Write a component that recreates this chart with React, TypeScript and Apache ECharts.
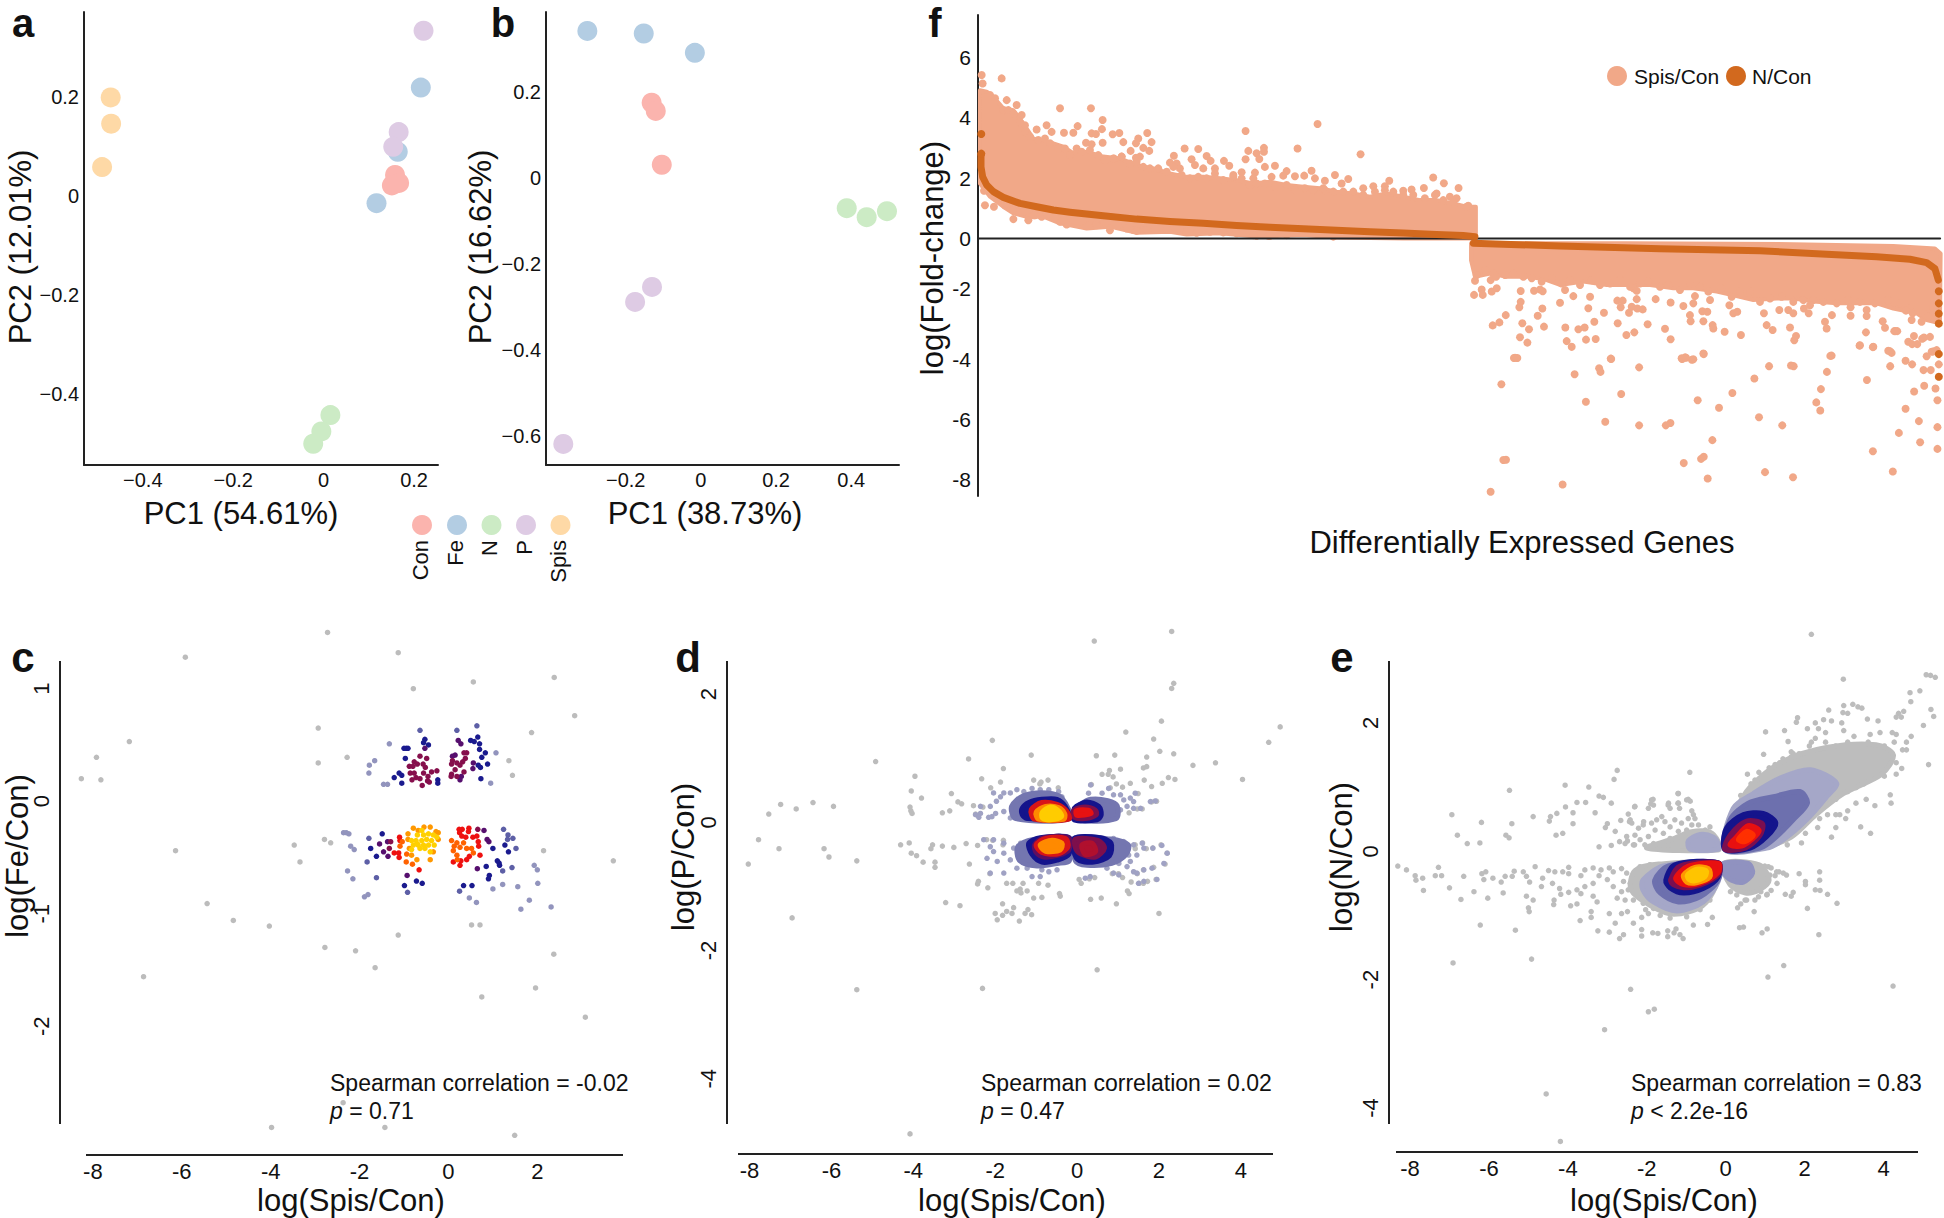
import React, { useEffect, useRef } from "react";
import * as echarts from "echarts";

type P = number[];
const FONT = "Liberation Sans";

const pcaGroups = ["Con", "Fe", "N", "P", "Spis"];
const pcaColors = ["#fbb4ae", "#b3cde3", "#ccebc5", "#decbe4", "#fed9a6"];
const pcaA: P[][] = [
  [[0.158, 0.043], [0.167, 0.027], [0.151, 0.022]],
  [[0.215, 0.22], [0.164, 0.09], [0.117, -0.014]],
  [[0.015, -0.443], [-0.005, -0.476], [-0.023, -0.501]],
  [[0.221, 0.335], [0.166, 0.13], [0.154, 0.1]],
  [[-0.471, 0.2], [-0.47, 0.147], [-0.49, 0.059]],
];
const pcaB: P[][] = [
  [[-0.131, 0.175], [-0.12, 0.156], [-0.104, 0.031]],
  [[-0.302, 0.342], [-0.152, 0.336], [-0.016, 0.291]],
  [[0.388, -0.07], [0.441, -0.091], [0.495, -0.077]],
  [[-0.13, -0.253], [-0.175, -0.288], [-0.366, -0.618]],
];

// Panel f
const fBandUp: P[] = [[2,4.91],[9,4.86],[15.9,4.69],[26.2,4.31],[36.6,4.25],[46.9,3.81],[57.3,3.31],[67.6,3.2],[78,3.15],[88.3,3.04],[98.7,2.82],[112.5,2.87],[129.7,2.71],[147,2.65],[164.2,2.43],[181.5,2.32],[198.7,2.15],[216,2.04],[233.2,2.04],[250.5,1.99],[267.7,1.93],[285,1.82],[302.2,1.88],[319.5,1.77],[336.7,1.71],[354,1.66],[371.2,1.55],[388.5,1.49],[405.7,1.38],[423,1.49],[440.2,1.38],[457.5,1.27],[474.7,1.27],[492,1.16],[505.8,1.05],[515.4,1.05],[515.4,0],[440.2,0],[371.2,0.03],[336.7,0.11],[288.4,0.06],[250.5,0.17],[216,0.13],[198.7,0.22],[164.2,0.19],[136.6,0.39],[112.5,0.33],[84.9,0.5],[67.6,0.72],[50.4,0.72],[36.6,0.83],[26.2,1.05],[12.4,1.38],[2,1.82]];
const fBandDown: P[] = [[510.4,-0.16],[671.5,-0.16],[844,-0.19],[947.5,-0.25],[990.6,-0.33],[996.5,-0.5],[995.8,-2.81],[982,-2.7],[971.7,-2.48],[947.5,-2.32],[930.3,-2.15],[913,-2.15],[888.9,-2.15],[868.2,-2.1],[844,-1.99],[826.8,-1.99],[802.6,-2.04],[781.9,-1.88],[764.7,-1.76],[740.5,-1.65],[719.8,-1.65],[695.7,-1.54],[671.5,-1.54],[650.8,-1.54],[626.7,-1.43],[602.5,-1.54],[588.7,-1.38],[571.5,-1.27],[547.3,-1.27],[530.1,-1.16],[514.5,-1.27],[510.4,-0.72]];
const fSpisUp: P[] = [[24.5,5.3],[3.8,5.41],[4.8,5.13],[84.9,4.31],[116.9,4.31],[129,3.92],[29.7,4.58],[40,4.42],[45.2,4.09],[48.6,3.75],[71,3.75],[60.7,3.61],[76.2,3.53],[89,3.5],[98.7,3.5],[103.1,3.72],[128.3,3.62],[117.6,3.48],[122.1,3.46],[139.4,3.45],[146.3,3.49],[175.2,3.49],[129,3.17],[111.8,3.17],[117.6,3.12],[150.4,3.19],[165.9,3.31],[163.5,3.15],[179.7,3.19],[158,2.9],[171.1,3],[177.3,2.9],[213.9,2.98],[228,2.96],[277,3.56],[351.5,3.79],[330.8,2.98],[396,2.79],[279.8,2.9],[296,3],[296,2.87],[288.4,2.82],[291.2,2.63],[277,2.62],[202.8,2.74],[198.7,2.51],[221.1,2.62],[236.7,2.73],[240.8,2.57],[254.6,2.57],[260.1,2.41],[297,2.37],[307.4,2.41],[319.5,2.23],[345.3,2.24],[316,2.08],[328.1,2.06],[337.7,2.08],[348.8,1.99],[359.1,1.91],[369.5,2.1],[383.3,1.97],[471.2,2.02],[482.3,1.83],[461.6,1.67],[497.5,1.67],[425.7,1.91],[409.2,1.73],[440.2,1.58],[448.8,1.62],[398.8,1.66],[167.6,2.71],[163.5,2.67],[148.7,2.71],[140.7,2.65],[205.6,2.48],[209,2.32],[224.6,2.43],[233.2,2.32],[245.3,2.32],[264.3,2.1],[272.9,2.19],[286.7,2.18],[285,1.99],[303.9,2.04],[376.4,1.82],[359.1,1.6],[421.2,1.73],[474.7,1.49],[488.5,1.38],[495.4,1.33],[507.5,1.08],[7.2,1.1],[16.5,1.05],[36.6,0.64],[52.1,0.6],[40.7,0.88],[6.2,1.58],[136.6,0.27],[91.8,0.46],[84.9,0.55],[65.9,0.72],[59,0.77],[27.9,1.1],[112.5,0.42],[122.8,0.5],[160.8,0.28],[171.1,0.28],[216,0.22],[288.4,0.09],[300.5,0.09],[367.8,0.06]];
const fEdgeTop: P[] = [[12.4,4.75],[17.6,4.64],[26.2,4.25],[31.4,4.25],[36.6,4.14],[43.5,3.85],[48.6,3.53],[53.8,3.37],[62.4,3.26],[69.3,3.31],[74.5,3.15],[83.1,2.98],[90,2.98],[95.2,2.76],[102.1,2.98],[107.3,2.87],[115.9,2.93],[124.5,2.76],[131.4,2.6],[140.1,2.65],[148.7,2.71],[157.3,2.48],[164.2,2.54],[171.1,2.37],[178,2.32],[186.6,2.32],[195.3,2.21],[202.2,2.37],[210.8,2.1],[219.4,1.99],[228,2.04],[236.7,1.99],[245.3,2.15],[253.9,1.93],[264.3,2.04],[272.9,1.99],[281.5,1.77],[288.4,1.82],[297,1.82],[307.4,1.71],[319.5,1.77],[328.1,1.6],[338.4,1.66],[347.1,1.6],[357.4,1.66],[367.8,1.55],[378.1,1.55],[388.5,1.55],[398.8,1.44],[410.9,1.55],[421.2,1.6],[429.9,1.55],[440.2,1.44],[450.6,1.44],[462.6,1.33],[473,1.44],[481.6,1.27],[492,1.2],[505.8,1.05]];
const fEdgeBottom: P[] = [[29.7,1.16],[36.6,0.94],[46.9,0.88],[57.3,0.77],[71,0.81],[79.7,0.72],[88.3,0.61],[105.6,0.61],[114.2,0.42],[122.8,0.44],[131.4,0.5],[145.2,0.44],[153.9,0.33],[164.2,0.25],[174.6,0.28],[183.2,0.33],[195.3,0.33],[205.6,0.33],[216,0.22],[226.3,0.19],[240.1,0.22],[253.9,0.2],[267.7,0.17],[285,0.11],[302.2,0.09],[319.5,0.11]];
const fEdgeLower: P[] = [[516.3,-1.21],[524.9,-1.05],[533.5,-1.16],[545.6,-1.21],[554.2,-1.16],[564.6,-1.27],[573.2,-1.32],[583.5,-1.43],[593.9,-1.32],[604.2,-1.49],[612.9,-1.38],[623.2,-1.54],[635.3,-1.38],[643.9,-1.54],[654.3,-1.49],[664.6,-1.38],[675,-1.6],[685.3,-1.49],[693.9,-1.43],[706,-1.6],[714.6,-1.54],[726.7,-1.71],[737.1,-1.49],[747.4,-1.6],[756,-1.76],[769.8,-1.65],[780.2,-1.93],[788.8,-1.76],[799.2,-1.76],[809.5,-2.1],[819.9,-1.99],[831.9,-1.93],[844,-2.1],[854.4,-2.04],[864.7,-2.04],[875.1,-2.1],[888.9,-2.15],[900.9,-2.04],[913,-2.1],[928.5,-2.15],[942.3,-2.04],[954.4,-2.15],[964.8,-2.32],[978.6,-2.48],[988.9,-2.65]];
const fSpisDown: P[] = [[514.5,-1.4],[530.7,-1.38],[536.3,-1.27],[513.5,-1.87],[521.4,-1.69],[537,-1.65],[531.8,-1.76],[522.5,-1.87],[561.8,-1.74],[575.6,-1.73],[581.8,-1.69],[584.6,-1.75],[561.8,-2.1],[560.4,-2.28],[546.3,-2.54],[539.7,-2.78],[532.8,-2.88],[563.5,-2.81],[570.4,-3.01],[585.9,-2.92],[579.4,-2.56],[584.2,-2.32],[602.5,-2.13],[616.3,-1.91],[633.6,-1.93],[607.7,-1.71],[631.8,-2.31],[648,-2.46],[638,-2.76],[608,-2.95],[621.5,-3.01],[628,-2.95],[561.1,-3.27],[568.7,-3.45],[609.4,-3.4],[614.6,-3.59],[629.4,-3.35],[639.4,-3.33],[662.2,-2.81],[671.2,-3.2],[679.4,-3.11],[693.2,-2.84],[661.8,-2.06],[667.4,-2.06],[681.9,-2.01],[665.3,-2.28],[676.7,-2.26],[682.5,-2.32],[688.1,-2.35],[673.9,-2.46],[678.4,-1.65],[681.9,-1.73],[701.5,-2.01],[717,-2.12],[730.2,-2.24],[740.5,-2.15],[742.2,-1.91],[737,-2.54],[737.7,-2.74],[750.9,-2.74],[749.8,-2.41],[755,-2.43],[760.5,-2.87],[761.2,-2.98],[772.9,-3.09],[789.8,-3.2],[711.2,-2.99],[717,-3.34],[757.8,-2.04],[777.8,-2.21],[781.9,-2.48],[786,-2.43],[813.6,-2.48],[816.4,-2.87],[822.6,-3.03],[829.5,-2.37],[840.6,-2.95],[845,-3.37],[846.8,-3.23],[838.8,-2.37],[844,-2.48],[855,-2.32],[861.3,-2.21],[859.9,-2.48],[876.8,-2.76],[878.5,-2.98],[884,-2.54],[903.3,-2.28],[903.3,-2.56],[919.2,-3.11],[936.5,-2.74],[938.9,-2.96],[948.5,-3.07],[951.6,-3.07],[913,-3.54],[926.8,-3.59],[942.3,-3.72],[945.8,-3.79],[883.7,-3.88],[919.9,-2.57],[919.9,-2.37],[960.6,-2.39],[967.5,-2.48],[966.5,-2.7],[968.9,-3.23],[963,-3.42],[972.3,-3.5],[979.2,-3.28],[985.5,-3.26],[987.2,-3.75],[982,-3.9],[992.4,-3.7],[976.8,-2.76],[983.7,-2.59],[988.9,-2.26],[555.9,-3.95],[655,-3.98],[732.9,-3.95],[740.5,-4],[728.4,-3.97],[750.9,-3.81],[751.3,-3.83],[882.3,-3.89],[729,-3.99],[732,-3.94],[739,-4.02],[554.8,-3.96],[558.3,-3.96],[655.5,-3.99],[643,-4.3],[644.4,-4.42],[684.4,-4.27],[818.9,-4.23],[841.6,-4.21],[844.4,-4.23],[617.6,-4.5],[541.8,-4.83],[803.7,-4.64],[878.8,-4.42],[920.2,-4.69],[872.6,-4.99],[780.9,-5.12],[665.8,-5.15],[629.3,-5.41],[745,-5.36],[767.1,-5.61],[867.8,-5.43],[871.9,-5.7],[649.3,-6.07],[684.4,-6.19],[712,-6.19],[716.8,-6.11],[808.5,-5.92],[832.6,-6.19],[760.2,-6.68],[546.6,-7.33],[543.8,-7.34],[730.6,-7.44],[748.5,-7.3],[751.3,-7.23],[755.4,-7.95],[814.7,-7.74],[843.7,-7.91],[605.2,-8.15],[530.7,-8.39],[926.4,-7.05],[947,-7.72],[953.3,-6.44],[975.3,-6.75],[974,-6.05],[993.2,-6.97],[993.2,-6.25],[960.2,-5.64],[993.2,-5.36],[969.1,-5.07],[979.5,-4.88],[991.2,-4.97],[960.2,-4.05],[944.3,-4.23],[944.3,-3.74],[967,-4.17],[978.8,-4.36],[986.3,-4.36],[994.6,-4.17],[989.1,-3.74],[912.6,-3.55],[926.4,-3.6],[949.8,-3.07],[967,-3.5],[977.4,-3.32]];
const fNLine: P[] = [[3.1,2.76],[3.1,2.37],[4.8,2.04],[9,1.77],[15.9,1.55],[26.2,1.36],[43.5,1.16],[60.7,1.05],[78,0.94],[95.2,0.87],[129.7,0.75],[164.2,0.64],[198.7,0.56],[233.2,0.5],[267.7,0.43],[302.2,0.37],[336.7,0.32],[371.2,0.27],[405.7,0.22],[440.2,0.18],[474.7,0.13],[502.3,0.1],[514.4,0.06]];
const fNLine2: P[] = [[512.8,-0.16],[602.5,-0.25],[706,-0.34],[809.5,-0.41],[878.5,-0.52],[930.3,-0.61],[964.8,-0.69],[982,-0.8],[990.6,-1],[994.1,-1.38]];
const fNDots: P[] = [[3.4,3.46],[3.4,2.81],[994.6,-1.75],[994.6,-2.15],[994.6,-2.49],[994.6,-2.82],[994.6,-3.83],[994.6,-4.58]];
const fZero: P[] = [[0, 0], [996, 0]];

// Panel c
const cGrey: P[] = [[-2.72,1.5],[-5.92,1.28],[-1.13,1.32],[0.56,1.06],[-0.79,1],[2.38,1.1],[2.84,0.76],[-2.93,0.65],[1.87,0.61],[-7.18,0.53],[-7.92,0.39],[-2.28,0.39],[-2.93,0.34],[1.36,0.36],[-8.26,0.2],[-7.82,0.19],[1.44,0.23],[-6.14,-0.44],[-3.47,-0.39],[-2.79,-0.34],[-2.65,-0.37],[-3.34,-0.54],[2.14,-0.44],[3.71,-0.53],[-5.43,-0.91],[-4.84,-1.06],[-4.03,-1.11],[-1.13,-1.19],[-2.78,-1.3],[-2.09,-1.33],[-1.65,-1.48],[-6.86,-1.56],[0.52,-1.1],[0.71,-1.1],[2.37,-1.36],[0.75,-1.74],[1.96,-1.66],[3.08,-1.92],[-2.37,-2.68],[-3.98,-2.9],[-1.43,-2.9],[1.49,-2.97]];
const cLight: P[] = [[-1.33,0.51],[-1.66,0.36],[-1.78,0.32],[-1.79,0.25],[-1.46,0.15],[-1.37,0.15],[0.95,0.16],[1.07,0.43],[-2.36,-0.28],[-2.3,-0.28],[-2.24,-0.29],[-2.2,-0.4],[-2.12,-0.43],[-2.27,-0.62],[-2.15,-0.69],[-1.89,-0.85],[-1.81,-0.83],[2,-0.61],[1.93,-0.57],[2.01,-0.73],[1.56,-0.76],[1,-0.78],[1.22,-0.74],[1.82,-0.88],[1.63,-0.96],[2.31,-0.94],[0.63,-0.9],[0.47,-0.86]];
const cMid: P[] = [[-0.64,0.63],[0.19,0.63],[0.64,0.67],[-1.83,-0.54],[-1.79,-0.33],[-1.62,-0.68],[-0.92,-0.81],[0.25,-0.8],[1.45,-0.33],[1.52,-0.42],[1.34,-0.3],[1.24,-0.25],[1.33,-0.34],[1.43,-0.59],[1.22,-0.62]];
const cNavy: P[] = [[-0.95,0.47],[-0.91,0.47],[-1,0.47],[-0.53,0.55],[-0.56,0.52],[-0.45,0.5],[-0.97,0.38],[-1.22,0.21],[-1.11,0.25],[-1.05,0.23],[-1.05,0.16],[0.66,0.57],[0.5,0.54],[0.58,0.53],[0.7,0.51],[0.7,0.46],[0.83,0.43],[0.75,0.39],[0.88,0.33],[0.73,0.2],[-0.24,0.19],[-0.24,0.16],[-1.49,-0.29],[-1.75,-0.42],[-1.62,-0.49],[-0.99,-0.75],[-0.72,-0.71],[-0.59,-0.73],[0.34,-0.75],[0.53,-0.75],[0.92,-0.66],[0.9,-0.69],[0.85,-0.58],[1.1,-0.53],[1.14,-0.55],[1.15,-0.57],[1.27,-0.39],[1.35,-0.45],[1,-0.42],[0.67,0.32],[0.72,0.3]];
const cPurple: P[] = [[-0.53,0.47],[0.22,0.54],[0.28,0.51],[0.15,0.41],[0.09,0.4],[0.56,0.34],[0.55,0.29],[0.29,0.22],[0.26,0.19],[-1.55,-0.38],[-1.46,-0.45],[-1.36,-0.49],[-0.93,-0.66],[0.65,-0.6],[0.87,-0.34],[0.91,-0.36],[0.8,-0.26],[-1.37,-0.36]];
const cMaroon: P[] = [[-0.64,0.4],[-0.49,0.38],[-0.77,0.35],[-0.88,0.31],[-0.8,0.31],[-0.7,0.33],[-0.57,0.33],[-0.52,0.3],[-0.86,0.25],[-0.77,0.25],[-0.56,0.25],[-0.38,0.26],[-0.26,0.27],[-0.46,0.22],[-0.73,0.21],[-0.64,0.2],[-0.82,0.19],[-0.47,0.18],[-0.43,0.17],[-0.59,0.14],[0.41,0.43],[0.35,0.43],[0.38,0.38],[0.32,0.35],[0.26,0.32],[0.19,0.34],[0.09,0.36],[0.07,0.33],[0.15,0.28],[0.35,0.26],[0.07,0.24],[0.06,0.22],[0.19,0.22],[0.66,-0.25],[-1.33,-0.42],[-1.3,-0.36]];
const cRed: P[] = [[0.24,-0.25],[0.31,-0.25],[0.46,-0.24],[0.45,-0.27],[0.25,-0.28],[0.3,-0.31],[0.39,-0.32],[0.55,-0.32],[0.64,-0.31],[0.67,-0.36],[0.68,-0.4],[0.71,-0.48],[0.11,-0.54],[0.28,-0.53],[0.26,-0.57],[0.41,-0.52],[0.47,-0.49],[-1.1,-0.32],[-1.09,-0.35],[-1.22,-0.46],[-1.12,-0.46],[-1.11,-0.5],[-0.66,-0.61]];
const cDeepOrange: P[] = [[0.07,-0.35],[0.19,-0.37],[0.34,-0.37],[0.13,-0.4],[0.11,-0.44],[0.26,-0.41],[0.19,-0.48],[0.41,-0.42],[0.52,-0.42],[0.56,-0.46],[0.2,-0.52],[-0.81,-0.56],[-0.95,-0.54],[-1.04,-0.36],[-1.09,-0.4],[-0.94,-0.47]];
const cOrange: P[] = [[-0.79,-0.24],[-0.55,-0.23],[-0.41,-0.23],[-0.91,-0.29],[-0.91,-0.34],[-0.83,-0.48],[-0.71,-0.52],[-0.41,-0.52],[-0.34,-0.45],[-0.28,-0.27],[-0.23,-0.28],[-0.23,-0.34],[-0.68,-0.26],[-0.88,-0.42]];
const cGold: P[] = [[-0.6,-0.26],[-0.7,-0.3],[-0.56,-0.3],[-0.45,-0.29],[-0.34,-0.3],[-0.83,-0.35],[-0.73,-0.35],[-0.6,-0.35],[-0.49,-0.34],[-0.38,-0.35],[-0.26,-0.32],[-0.79,-0.39],[-0.68,-0.39],[-0.56,-0.39],[-0.45,-0.39],[-0.32,-0.39],[-0.83,-0.43],[-0.64,-0.42],[-0.53,-0.42],[-0.41,-0.45],[-0.7,-0.38]];

// Panel d
const dGrey: P[] = [[2.31,2.98],[0.42,2.83],[2.36,2.17],[2.31,2.09],[2.06,1.58],[1.19,1.41],[4.96,1.49],[4.68,1.25],[1.87,1.3],[-2.07,1.28],[2.02,1.11],[-1.12,1.05],[0.47,1.04],[0.92,1.05],[2.36,1.07],[1.7,1.02],[-2.65,0.99],[-4.92,0.95],[2.83,0.89],[3.38,0.93],[-1.8,0.84],[4.04,0.67],[1.7,0.87],[1.62,0.85],[1.06,0.83],[0.79,0.81],[0.61,0.75],[0.88,0.71],[2.39,0.67],[2.23,0.7],[2.08,0.61],[1.64,0.66],[1.82,0.56],[-3.96,0.72],[-2.33,0.68],[-4.05,0.49],[-3.8,0.38],[-3.07,0.45],[-2.91,0.32],[-2.82,0.29],[-7.24,0.28],[-6.45,0.31],[-6.86,0.21],[-5.95,0.25],[-7.53,0.13],[-4.08,0.24],[-4.06,0.18],[-4.03,0.14],[-3.29,0.15],[-3.11,0.18],[-2.53,0.26],[-2.48,0.13],[-2.3,0.24],[-7.78,-0.27],[-7.28,-0.41],[-6.18,-0.41],[-6.06,-0.54],[-5.38,-0.6],[-8.03,-0.65],[-4.31,-0.35],[-4.1,-0.32],[-4.05,-0.48],[-3.92,-0.52],[-3.76,-0.62],[-3.47,-0.62],[-3.47,-0.7],[-3.57,-0.41],[-3.53,-0.35],[-3.29,-0.37],[-3.01,-0.39],[-2.71,-0.33],[-2.63,-0.65],[-2.43,-0.36],[-2.21,-0.27],[-2.06,-0.28],[-1.8,-0.28],[-1.81,-0.35],[-2.41,-0.92],[-2.43,-0.96],[-2.18,-1.02],[-2.13,-0.8],[-3.21,-1.25],[-2.86,-1.3],[-6.96,-1.49],[2,-1.42],[0.96,-1.27],[0.59,-1.18],[0.33,-1.2],[0.49,-2.3],[-2.31,-2.59],[-5.38,-2.61],[-4.08,-4.86],[-2,-1.42],[-1.82,-1.27],[-1.95,-1.52],[-1.82,-1.45],[-1.72,-1.39],[-1.59,-1.42],[-1.55,-1.33],[-1.41,-1.54],[-1.27,-1.42],[-1.2,-1.36],[-1.11,-1.44],[-1.47,-1.07],[-1.37,-1.1],[-1.39,-1.04],[-1.22,-1.07],[-1.06,-1.18],[-0.86,-1.17],[-0.43,-1.11],[-0.41,-1.15],[-0.94,-0.95],[-0.71,-0.98],[-1.32,-0.95],[-1.57,-0.95],[-1.72,-0.95],[1.23,-1.07],[1.27,-1.11],[1.32,-0.93],[1.52,-0.95],[1.62,-0.95],[1.72,-0.92],[1.93,-0.89],[1.87,-0.7],[1.62,-0.74],[1.47,-0.8],[1.01,-0.8],[1.11,-0.86],[0.86,-0.8],[0.1,-0.95],[0.05,-0.89],[0.3,-0.88],[0.43,-0.86],[2.15,-0.65],[2.2,-0.48],[2.05,-0.35],[1.85,-0.4],[1.6,-0.32],[1.69,-0.41],[1.42,-0.41],[1.42,-0.35],[0.76,0.75],[0.96,0.6],[1.3,0.61],[1.11,0.55],[0.81,0.54],[0.35,0.59],[1.94,0.33],[1.82,0.32],[1.59,0.21],[1.47,0.21],[1.27,0.15],[1.49,0.45],[-2.11,0.54],[-1.87,0.63],[-1.06,0.66],[-0.88,0.63],[-0.71,0.66],[-0.46,0.54],[-0.91,0.6]];
const dHalo: P[] = [[-2.04,0.46],[-1.97,0.33],[-1.87,0.4],[-1.79,0.46],[-1.63,0.46],[-1.47,0.51],[-1.3,0.48],[-1.1,0.53],[-0.9,0.51],[-0.69,0.51],[-0.45,0.48],[-0.37,0.4],[-2.36,0.25],[-2.12,0.25],[-1.99,0.14],[-2.08,0.09],[-1.63,0.07],[-1.79,0.17],[-2.36,0.14],[-2.48,0.12],[-2.4,0.08],[-2.16,0.08],[0.33,0.585],[0.28,0.455],[0.61,0.455],[0.77,0.53],[0.89,0.43],[1.06,0.43],[1.14,0.35],[1.3,0.38],[1.42,0.455],[1.38,0.325],[1.22,0.25],[1.06,0.195],[0.89,0.065],[0.73,0.09],[0.65,0.04],[1.38,0.22],[1.55,0.22],[1.79,0.325],[1.91,0.335],[-2.12,-0.38],[-2.04,-0.455],[-1.79,-0.48],[-1.55,-0.4],[-1.38,-0.325],[-1.63,-0.585],[-1.95,-0.61],[-2.2,-0.56],[-2.28,-0.27],[-2.04,-0.27],[-1.79,-0.325],[-1.47,-0.715],[-1.22,-0.715],[-0.86,-0.74],[-0.69,-0.77],[-0.49,-0.74],[-0.9,-0.845],[-1.1,-0.845],[-1.79,-0.79],[-2.12,-0.79],[-0.65,-0.64],[0.89,-0.25],[1.14,-0.3],[1.38,-0.35],[1.59,-0.325],[1.63,-0.4],[1.85,-0.4],[1.46,-0.51],[1.26,-0.51],[1.3,-0.61],[1.02,-0.64],[1.22,-0.69],[1.38,-0.77],[1.63,-0.74],[1.83,-0.715],[2.12,-0.64],[2.2,-0.48],[2.07,-0.36],[0.32,-0.845],[0.2,-0.87],[0.73,-0.715],[0.89,-0.79],[1.02,-0.82],[1.46,-0.79],[1.5,-0.95],[1.63,-0.92],[1.95,-0.89]];
const dDensity: { shade: string; hull: P[] }[] = [
  { shade: "#7476b0", hull: [[-1.6,0.25],[-1.3,0.42],[-0.73,0.46],[-0.37,0.38],[-0.19,0.06],[-1.5,0.06]] },
  { shade: "#7476b0", hull: [[0.08,0.28],[0.33,0.36],[0.75,0.34],[0.98,0.26],[0.95,0.06],[0,0.04],[-0.07,0.19]] },
  { shade: "#7476b0", hull: [[-1.45,-0.38],[-1.1,-0.27],[-0.19,-0.24],[-0.19,-0.6],[-0.49,-0.64],[-0.98,-0.68],[-1.4,-0.6]] },
  { shade: "#7476b0", hull: [[-0.07,-0.25],[0.81,-0.26],[1.25,-0.35],[1.2,-0.5],[0.85,-0.64],[0.24,-0.67],[-0.04,-0.6]] },
  { shade: "#14148c", hull: [[-1.34,0.22],[-1.18,0.31],[-0.86,0.36],[-0.49,0.36],[-0.29,0.25],[-0.2,0.06],[-1.22,0.06],[-1.34,0.12]] },
  { shade: "#14148c", hull: [[-0.02,0.25],[0.24,0.32],[0.53,0.25],[0.59,0.12],[0.49,0.04],[-0.07,0.04],[-0.08,0.19]] },
  { shade: "#14148c", hull: [[-1.18,-0.325],[-0.9,-0.24],[-0.2,-0.24],[-0.2,-0.5],[-0.49,-0.59],[-0.86,-0.62],[-1.1,-0.5]] },
  { shade: "#14148c", hull: [[-0.07,-0.25],[0.57,-0.24],[0.83,-0.325],[0.79,-0.52],[0.41,-0.62],[0,-0.57]] },
  { shade: "#7d0f4c", hull: [[-0.08,0.19],[0.2,0.24],[0.45,0.19],[0.47,0.12],[0.2,0.06],[-0.07,0.08]] },
  { shade: "#5d0e62", hull: [[-1.04,-0.35],[-0.81,-0.24],[-0.21,-0.24],[-0.2,-0.43],[-0.45,-0.51],[-0.81,-0.54],[-1,-0.47]] },
  { shade: "#7d0f4c", hull: [[-0.04,-0.26],[0.51,-0.28],[0.67,-0.4],[0.45,-0.54],[0.08,-0.49],[-0.04,-0.4]] },
  { shade: "#d81418", hull: [[-1.12,0.2],[-0.86,0.31],[-0.49,0.28],[-0.26,0.18],[-0.2,0.05],[-1.04,0.05]] },
  { shade: "#e81212", hull: [[-0.02,0.18],[0.28,0.19],[0.34,0.14],[0,0.11]] },
  { shade: "#d81418", hull: [[-1,-0.35],[-0.77,-0.25],[-0.29,-0.25],[-0.22,-0.38],[-0.45,-0.49],[-0.86,-0.47]] },
  { shade: "#b0102e", hull: [[0.12,-0.35],[0.37,-0.325],[0.45,-0.455],[0.2,-0.5]] },
  { shade: "#ff8a00", hull: [[-1,0.16],[-0.77,0.25],[-0.45,0.23],[-0.3,0.13],[-0.33,0.05],[-0.94,0.05]] },
  { shade: "#ff8a00", hull: [[-0.9,-0.35],[-0.61,-0.28],[-0.37,-0.325],[-0.41,-0.43],[-0.77,-0.45]] },
  { shade: "#ffcc00", hull: [[-0.85,0.16],[-0.65,0.24],[-0.45,0.18],[-0.38,0.09],[-0.65,0.04],[-0.85,0.07]] },
];

// Panel e
const eGrey: P[] = [[2.17,3.38],[2.98,2.68],[5.08,2.75],[5.19,2.74],[5.31,2.71],[4.92,2.5],[4.67,2.47],[4.69,2.33],[5.2,2.21],[5.27,2.1],[5.01,1.96],[5.14,1.35],[4.38,2.15],[4.51,2.18],[4.45,2.09],[4.32,2.09],[2.99,2.27],[3.22,2.29],[3.35,2.25],[3.45,2.23],[2.61,2.2],[2.97,2.16],[3.09,2.15],[1.82,2.08],[1.79,2.01],[2.27,2],[2.48,2.05],[2.68,2.03],[2.94,2],[3.59,2.06],[3.86,2.03],[1.01,1.86],[1.49,1.88],[2.07,1.91],[2.35,1.91],[2.53,1.85],[2.99,1.88],[3.25,1.79],[3.66,1.82],[3.91,1.85],[4.22,1.85],[4.32,1.82],[4.7,1.79],[4.58,1.7],[4.27,1.7],[1.58,1.71],[2.17,1.7],[0.96,1.51],[1.66,1.55],[4.48,1.58],[4.58,1.58],[4.12,1.55],[3.81,1.52],[4.46,1.29],[4.32,1.2],[4.02,1.17],[3.81,1.32],[3.66,1.17],[3.4,1.11],[3.25,1.29],[4.17,0.88],[4.19,0.75],[3.78,0.71],[3.56,0.81],[3.3,0.75],[3.09,0.63],[3.42,0.38],[3.67,0.28],[2.89,0.57],[2.79,0.37],[2.68,0.22],[2.33,0.37],[1.92,0.13],[1.56,0.1],[1.15,0.09],[0.55,1.2],[0.74,1.11],[1.1,1.3],[0.38,0.87],[1.37,1.38],[1.71,1.52],[2.17,1.55],[2.68,1.55],[2.99,1.58],[3.5,1.64],[2.89,1.26],[3.5,1.38],
[0.64,1.05],[0.84,1.23],[1.05,1.2],[1.25,1.35],[1.45,1.44],[1.66,1.47],[1.86,1.52],[2.12,1.64],[2.27,1.76],[2.53,1.7],[2.79,1.64],[3.09,1.7],[3.35,1.61],[3.61,1.7],[3.86,1.61],[4.02,1.64],[4.22,1.52],[4.32,1.38],[4.02,1.35],[3.76,1.23],[3.56,1.23],[1.05,0.13],[1.35,0.25],[1.66,0.31],[1.97,0.4],[2.17,0.57],[2.48,0.69],[2.79,0.81],[3.09,0.93],[3.3,0.99],[3.5,1.05],[3.76,1.14],[2.58,0.57],[2.02,0.28],[2.38,0.51],[2.79,0.57],[3.04,0.51],
[-0.91,1.23],[-2.75,1.26],[-2.83,1.12],[-4.07,1.03],[-3.47,1],[-5.48,0.95],[-1.21,0.9],[-3.21,0.86],[-3.1,0.84],[-0.95,0.81],[-1.84,0.81],[-1.9,0.74],[-3.55,0.76],[-3.77,0.76],[-2.9,0.75],[-4.06,0.69],[-2.31,0.69],[-1.46,0.72],[-1.21,0.75],[-3.31,0.6],[-3.87,0.6],[-4.28,0.59],[-4.44,0.54],[-4.88,0.54],[-6.94,0.57],[-6.19,0.45],[-5.42,0.43],[-4.47,0.47],[-3.87,0.43],[-3,0.43],[-2.66,0.48],[-2.44,0.46],[-2.08,0.46],[-3.05,0.37],[-2.8,0.31],[-4.13,0.28],[-4.3,0.25],[-5.57,0.25],[-5.49,0.21],[-6.8,0.25],[-6.55,0.12],[-6.23,0.13],[-3.21,0.07],[-2.9,0.09],[-2.69,0.15],[-2.49,0.16],[-2.31,0.1],
[-2.3,0.7],[-1.88,0.8],[-1.83,0.72],[-1.96,0.67],[-1.45,0.75],[-1.2,0.9],[-0.99,0.8],[-0.9,0.78],[-1.2,0.75],[-1.17,0.67],[-1.41,0.67],[-0.86,0.63],[-0.82,0.57],[-1.62,0.54],[-2.47,0.58],[-2.38,0.44],
[-2.42,0.49],[-2.21,0.36],[-2.09,0.41],[-1.88,0.44],[-1.75,0.49],[-1.54,0.46],[-1.41,0.38],[-1.29,0.49],[-1.12,0.44],[-0.95,0.51],[-0.78,0.51],[-0.69,0.41],[-0.52,0.33],[-0.4,0.38],[-2.51,0.23],[-2.3,0.25],[-2.17,0.18],[-1.96,0.23],[-1.79,0.33],[-1.58,0.28],[-1.41,0.2],[-1.2,0.31],[-1.07,0.2],[-2.55,0.12],[-2.34,0.1],[-2.05,0.1],[-1.83,0.12],[-1.62,0.1],[-1.41,0.08],[-1.2,0.08],[-1.03,0.08],[-0.99,0.33],[-0.86,0.41],
[-2.64,-0.27],[-2.51,-0.34],[-2.59,-0.47],[-2.47,-0.6],[-2.64,-0.63],[-2.55,-0.76],[-2.34,-0.76],[-2.09,-0.81],[-1.83,-0.89],[-1.96,-0.97],[-1.66,-1],[-1.41,-1.04],[-0.99,-1.02],[-0.65,-0.91],[-0.4,-0.76],[-1.75,-0.24],[-1.92,-0.21],[-2.17,-0.24],[-2.34,-0.37],[-2.42,-0.5],
[0.87,-0.27],[1.08,-0.24],[1.29,-0.32],[1.12,-0.37],[1.54,-0.37],[0.95,-0.45],[0.66,-0.6],[0.83,-0.71],[1.04,-0.68],[0.49,-0.76],[0.28,-0.68],[1.46,-0.34],
[-8.31,-0.23],[-8.09,-0.29],[-7.87,-0.38],[-7.85,-0.45],[-7.68,-0.42],[-7.66,-0.61],[-7.28,-0.25],[-7.36,-0.38],[-7.2,-0.38],[-7,-0.57],[-6.71,-0.75],[-6.64,-0.39],[-6.38,-0.63],[-6.18,-0.35],[-6.08,-0.32],[-6.13,-0.44],[-6.03,-0.73],[-5.9,-0.42],[-5.69,-0.48],[-5.64,-0.65],[-5.59,-0.39],[-5.41,-0.39],[-5.36,-0.31],[-5.13,-0.32],[-5.05,-0.39],[-4.97,-0.48],[-5.05,-0.7],[-4.88,-0.76],[-5,-0.88],[-4.98,-0.94],[-4.83,-0.24],[-4.64,-0.42],[-4.67,-0.55],[-4.49,-0.3],[-4.33,-0.32],[-4.39,-0.5],[-4.35,-0.76],[-4.36,-0.83],[-4.21,-0.58],[-4.18,-0.67],[-3.98,-0.64],[-4.13,-0.32],[-3.98,-0.25],[-3.98,-0.35],[-3.67,-0.38],[-3.93,-0.85],[-3.77,-0.82],[-3.77,-0.6],[-3.57,-0.55],[-3.67,-0.66],[-3.57,-0.29],[-3.36,-0.26],[-3.16,-0.29],[-2.95,-0.26],[-2.85,-0.32],[-3,-0.44],[-3.21,-0.38],[-3.36,-0.5],[-3.36,-0.7],[-3.26,-0.79],[-3.41,-0.94],[-3.41,-1.03],[-3.69,-1.08],[-2.85,-0.55],[-2.75,-0.73],[-2.95,-0.97],[-2.64,-0.97],[-2.49,-0.94],[-3.24,-1.24],[-2.95,-1.26],[-2.8,-1.12],[-2.34,-1.12],[-2.13,-1.03],[-2.03,-0.91],[-2.69,-1.36],[-2.59,-1.3],[-2.13,-1.22],[-2.13,-1.32],[-1.85,-1.27],[-1.72,-1.28],[-1.47,-1.33],[-1.47,-1.24],[-1.31,-1.27],[-1.16,-1.3],[-1.08,-1.36],[-1.26,-1.21],[-0.82,-1.15],[-0.46,-1.14],[-0.34,-1.03],[-6.22,-1.15],[-5.33,-1.23],[-4.92,-1.68],[-6.91,-1.74],[-2.41,-2.15],[-1.96,-2.5],[-1.81,-2.46],[-3.07,-2.78],[-4.55,-3.78],[-4.19,-4.52],
[4.24,-2.1],[1.07,-1.96],[1.47,-1.78],[2.36,-1.3],[2.82,-0.81],[2.38,-0.32],[2.38,-0.45],[2.27,-0.6],[2.39,-0.61],[2.58,-0.67],[2.07,-0.89],[1.86,-0.35],[2.02,-0.47],[2.02,-0.52],[1.71,-0.64],[1.66,-0.7],[1.51,-0.67],[1.3,-0.5],[1.15,-0.61],[1.05,-0.67],[0.89,-0.63],[1.35,-0.32],[1.15,-0.26],[0.99,-0.23],[1.25,-0.38],[1.05,-1.21],[0.92,-1.27],[0.45,-1.18],[0.35,-1.19],[0.72,-0.94],[0.53,-0.76],[0.38,-0.82],[0.3,-0.88],[0.74,-0.76],[0.12,-0.63],[0.38,-0.55]];
const eDensity: { shade: string; hull: P[] }[] = [
  { shade: "#bdbdbd", hull: [[-0.03,0.1],[0.23,0.6],[0.62,1],[1.45,1.4],[2.58,1.62],[3.81,1.66],[4.25,1.5],[3.95,1.2],[2.99,0.9],[2.27,0.56],[1.66,0.22],[0.94,0.06],[0.02,0.03]] },
  { shade: "#bdbdbd", hull: [[-0.2,-0.2],[-1.7,-0.2],[-2.3,-0.3],[-2.4,-0.6],[-1.9,-0.85],[-1.31,-0.98],[-0.59,-0.85],[-0.26,-0.55]] },
  { shade: "#bdbdbd", hull: [[-2,0.05],[-1.3,0.2],[-0.9,0.3],[-0.4,0.3],[-0.19,0.15],[-0.19,0.02]] },
  { shade: "#bdbdbd", hull: [[-0.06,-0.19],[0.85,-0.21],[1.1,-0.45],[0.85,-0.6],[0.5,-0.65],[0.11,-0.52]] },
  { shade: "#a5a7c8", hull: [[-0.02,0.02],[0.19,0.67],[0.7,0.9],[1.38,1.14],[2.14,1.27],[2.81,1.06],[2.56,0.85],[2.05,0.49],[1.46,0.18],[1.04,0.05]] },
  { shade: "#a5a7c8", hull: [[-2.1,-0.45],[-1.58,-0.23],[-0.19,-0.18],[-0.19,-0.47],[-0.57,-0.79],[-1.24,-0.93],[-1.83,-0.79],[-2.1,-0.6]] },
  { shade: "#a5a7c8", hull: [[-0.95,0.16],[-0.65,0.26],[-0.31,0.22],[-0.19,0.12],[-0.19,0.03],[-0.9,0.03]] },
  { shade: "#9092c0", hull: [[-0.06,-0.19],[0.57,-0.19],[0.68,-0.34],[0.45,-0.48],[0.15,-0.45],[-0.04,-0.34]] },
  { shade: "#6d70ae", hull: [[-0.02,0.03],[0.11,0.49],[0.57,0.75],[1.21,0.85],[1.88,0.93],[2.07,0.75],[1.71,0.49],[1.29,0.23],[0.87,0.05]] },
  { shade: "#6d70ae", hull: [[-1.8,-0.45],[-1.45,-0.23],[-0.19,-0.18],[-0.19,-0.45],[-0.65,-0.71],[-1.2,-0.79],[-1.66,-0.65]] },
  { shade: "#14148c", hull: [[-0.02,0.03],[0.02,0.36],[0.45,0.57],[0.95,0.59],[1.27,0.44],[1.04,0.23],[0.62,0.05]] },
  { shade: "#14148c", hull: [[-1.52,-0.45],[-1.29,-0.21],[-0.19,-0.18],[-0.19,-0.4],[-0.57,-0.58],[-1.07,-0.65],[-1.41,-0.57]] },
  { shade: "#7a0f50", hull: [[-0.02,0.03],[0.11,0.25],[0.53,0.47],[0.93,0.43],[0.87,0.25],[0.49,0.05]] },
  { shade: "#7a0f50", hull: [[-1.4,-0.45],[-1.16,-0.23],[-0.18,-0.18],[-0.18,-0.36],[-0.65,-0.53],[-1.07,-0.57],[-1.33,-0.52]] },
  { shade: "#e81010", hull: [[0.11,0.1],[0.24,0.2],[0.57,0.4],[0.85,0.32],[0.66,0.18],[0.4,0.08]] },
  { shade: "#e81010", hull: [[-1.27,-0.42],[-0.95,-0.23],[-0.18,-0.19],[-0.19,-0.33],[-0.65,-0.5],[-1.07,-0.52]] },
  { shade: "#ff3000", hull: [[0.32,0.18],[0.53,0.31],[0.7,0.25],[0.49,0.15]] },
  { shade: "#ff9800", hull: [[-1.07,-0.37],[-0.78,-0.25],[-0.44,-0.27],[-0.4,-0.4],[-0.74,-0.49],[-0.99,-0.48]] },
  { shade: "#ffc400", hull: [[-0.97,-0.37],[-0.74,-0.28],[-0.5,-0.3],[-0.52,-0.39],[-0.78,-0.46],[-0.93,-0.44]] },
];

const xTicksWide = [-8, -6, -4, -2, 0, 2, 4];
const xTicksC = [-8, -6, -4, -2, 0, 2];
const yTicksC = [-2, -1, 0, 1];
const yTicksD = [-4, -2, 0, 2];
const yTicksF = [-8, -6, -4, -2, 0, 2, 4, 6];
const xTicksA = [-0.4, -0.2, 0, 0.2];
const yTicksA = [-0.4, -0.2, 0, 0.2];
const xTicksB = [-0.2, 0, 0.2, 0.4];
const yTicksB = [-0.6, -0.4, -0.2, 0, 0.2];

const INK = "#111";
const SPIS = "#f1a888";
const NCON = "#d2691e";
const minus = (v: number) => (v < 0 ? "\u2212" + Math.abs(v) : String(v));

function valAxis(i: number, min: number, max: number, ticks: number[], opts: any = {}) {
  const { label = {}, line } = opts;
  return {
    type: "value",
    gridIndex: i,
    min,
    max,
    scale: true,
    splitLine: { show: false },
    axisTick: { show: false },
    axisLine: line ? { show: true, onZero: false, lineStyle: { color: "#222", width: 2 } } : { show: false },
    axisLabel: { show: true, customValues: ticks, color: INK, fontFamily: FONT, fontSize: 20, margin: 5, showMinLabel: true, showMaxLabel: true, ...label },
  };
}

function dots(i: number, data: P[], color: string, size: number, z = 3) {
  return {
    type: "scatter",
    xAxisIndex: i,
    yAxisIndex: i,
    data,
    symbolSize: size,
    itemStyle: { color, opacity: 1 },
    silent: true,
    z,
    clip: false,
  };
}

function hull(i: number, points: P[], color: string, z: number, width = 5, smooth = 0.3) {
  return {
    type: "custom",
    xAxisIndex: i,
    yAxisIndex: i,
    data: points,
    encode: { x: 0, y: 1 },
    silent: true,
    z,
    clip: false,
    renderItem: (params: any, api: any) => {
      if (params.dataIndex !== 0) return null;
      return {
        type: "polygon",
        shape: { points: points.map((p) => api.coord(p)), smooth },
        style: { fill: color, stroke: color, lineWidth: width, lineJoin: "round" },
      };
    },
  };
}

function line(i: number, data: P[], color: string, width: number, z: number) {
  return {
    type: "line",
    xAxisIndex: i,
    yAxisIndex: i,
    data,
    symbol: "none",
    smooth: false,
    silent: true,
    z,
    lineStyle: { color, width, cap: "round", join: "round" },
  };
}

function label(text: string, x: number, y: number, fontSize: number, extra: any = {}) {
  const { rotation = 0, align = "center", weight = "normal", vAlign = "middle", rich } = extra;
  return {
    type: "text",
    x,
    y,
    rotation,
    silent: true,
    style: {
      text,
      fontFamily: FONT,
      fontSize,
      fontWeight: weight,
      fill: "#111",
      align,
      verticalAlign: vAlign,
      textAlign: align,
      textVerticalAlign: vAlign,
      rich,
    },
  };
}

const italicRich = { i: { fontStyle: "italic", fontFamily: FONT, fontSize: 23, fill: "#111", color: "#111" } };

function detachedAxes(x: number, yTop: number, yBottom: number, lineY: number, x0: number, x1: number) {
  const st = { stroke: "#222", lineWidth: 2 };
  return [
    { type: "line", silent: true, shape: { x1: x, y1: yTop, x2: x, y2: yBottom }, style: st },
    { type: "line", silent: true, shape: { x1: x0, y1: lineY, x2: x1, y2: lineY }, style: st },
  ];
}

export default function App() {
  const ref = useRef<HTMLDivElement>(null);
  useEffect(() => {
    document.body.style.margin = "0";
    const chart = echarts.init(ref.current as HTMLDivElement, undefined, { renderer: "svg" });
    const series: any[] = [];
    pcaA.forEach((g, k) => series.push(dots(0, g, pcaColors[k], 20)));
    pcaB.forEach((g, k) => series.push(dots(1, g, pcaColors[k], 20)));
    // c
    const cSize = 5.5;
    series.push(dots(2, cGrey, "#bcbcbc", cSize));
    series.push(dots(2, cLight, "#9294bd", cSize));
    series.push(dots(2, cMid, "#5d5fa6", cSize));
    series.push(dots(2, cNavy, "#1a1a8e", cSize));
    series.push(dots(2, cPurple, "#560f6e", cSize));
    series.push(dots(2, cMaroon, "#860f4c", cSize));
    series.push(dots(2, cRed, "#ee1010", cSize));
    series.push(dots(2, cDeepOrange, "#ff6200", cSize));
    series.push(dots(2, cOrange, "#ff9800", cSize));
    series.push(dots(2, cGold, "#ffd000", cSize));
    // d
    series.push(dots(3, dGrey, "#bcbcbc", 5.5, 3));
    series.push(dots(3, dHalo, "#a0a2c4", 5.5, 4));
    dDensity.forEach((l, k) => series.push(hull(3, l.hull, l.shade, 5 + k)));
    // e
    eDensity.forEach((l, k) => series.push(hull(4, l.hull, l.shade, 5 + k)));
    series.push(dots(4, eGrey, "#bdbdbd", 5.5, 3));
    // f
    series.push(hull(5, fBandUp, SPIS, 3, 4, 0));
    series.push(hull(5, fBandDown, SPIS, 3, 4, 0));
    series.push(dots(5, fSpisUp, SPIS, 8, 4));
    series.push(dots(5, fEdgeTop, SPIS, 8, 4));
    series.push(dots(5, fEdgeBottom, SPIS, 8, 4));
    series.push(dots(5, fEdgeLower, SPIS, 8, 4));
    series.push(dots(5, fSpisDown, SPIS, 8, 4));
    series.push(line(5, fZero, "#222", 2, 5));
    series.push(line(5, fNLine, NCON, 7, 6));
    series.push(line(5, fNLine2, NCON, 7, 6));
    series.push(dots(5, fNDots, NCON, 8, 6));

    const bigLabel = { fontSize: 22, margin: 5 };
    const rotLabel = { fontSize: 22, rotate: 90, margin: 8 };

    const graphics: any[] = [
      ...detachedAxes(60, 661, 1124, 1155, 86, 623),
      ...detachedAxes(727, 661, 1124, 1154, 738, 1273),
      ...detachedAxes(1389, 661, 1124, 1152, 1396, 1918),
      label("a", 23, 23, 40, { weight: "bold" }),
      label("b", 503, 23, 40, { weight: "bold" }),
      label("f", 935, 23, 40, { weight: "bold" }),
      label("c", 23, 657, 42, { weight: "bold" }),
      label("d", 688, 657, 42, { weight: "bold" }),
      label("e", 1342, 657, 42, { weight: "bold" }),
      label("PC1 (54.61%)", 241, 513, 31),
      label("PC1 (38.73%)", 705, 513, 31),
      label("PC2 (12.01%)", 20, 247, 31, { rotation: Math.PI / 2 }),
      label("PC2 (16.62%)", 480, 247, 31, { rotation: Math.PI / 2 }),
      label("log(Fold-change)", 932, 258, 31, { rotation: Math.PI / 2 }),
      label("Differentially Expressed Genes", 1522, 542, 31),
      label("log(Fe/Con)", 17, 856, 31, { rotation: Math.PI / 2 }),
      label("log(P/Con)", 683, 857, 31, { rotation: Math.PI / 2 }),
      label("log(N/Con)", 1341, 857, 31, { rotation: Math.PI / 2 }),
      label("log(Spis/Con)", 351, 1200, 31),
      label("log(Spis/Con)", 1012, 1200, 31),
      label("log(Spis/Con)", 1664, 1200, 31),
      label("Spearman correlation = -0.02", 330, 1083, 23, { align: "left" }),
      label("{i|p} = 0.71", 330, 1111, 23, { align: "left", rich: italicRich }),
      label("Spearman correlation = 0.02", 981, 1083, 23, { align: "left" }),
      label("{i|p} = 0.47", 981, 1111, 23, { align: "left", rich: italicRich }),
      label("Spearman correlation = 0.83", 1631, 1083, 23, { align: "left" }),
      label("{i|p} < 2.2e-16", 1631, 1111, 23, { align: "left", rich: italicRich }),
      { type: "circle", silent: true, shape: { cx: 1617, cy: 76, r: 10 }, style: { fill: SPIS } },
      label("Spis/Con", 1634, 76, 21, { align: "left" }),
      { type: "circle", silent: true, shape: { cx: 1736, cy: 76, r: 10 }, style: { fill: NCON } },
      label("N/Con", 1752, 76, 21, { align: "left" }),
    ];
    const legendX = [422, 457, 491.5, 526, 560.5];
    pcaGroups.forEach((name, k) => {
      graphics.push({ type: "circle", silent: true, shape: { cx: legendX[k], cy: 525, r: 10 }, style: { fill: pcaColors[k] } });
      graphics.push(label(name, legendX[k] - 2, 540, 22, { rotation: Math.PI / 2, align: "right" }));
    });

    chart.setOption({
      animation: false,
      backgroundColor: "#ffffff",
      textStyle: { fontFamily: FONT },
      grid: [
        { left: 84, top: 12, width: 354, height: 453 },
        { left: 546, top: 12, width: 353, height: 453 },
        { left: 60, top: 625, width: 580, height: 530 },
        { left: 727, top: 625, width: 563, height: 529 },
        { left: 1389, top: 625, width: 551, height: 527 },
        { left: 978, top: 15, width: 966, height: 481 },
      ],
      xAxis: [
        valAxis(0, -0.53, 0.253, xTicksA, { line: true, label: { formatter: minus } }),
        valAxis(1, -0.412, 0.527, xTicksB, { line: true, label: { formatter: minus } }),
        valAxis(2, -8.74, 4.31, xTicksC, { label: bigLabel }),
        valAxis(3, -8.55, 5.2, xTicksWide, { label: bigLabel }),
        valAxis(4, -8.533, 5.43, xTicksWide, { label: bigLabel }),
        { type: "value", gridIndex: 5, min: 0, max: 1000, show: false, splitLine: { show: false } },
      ],
      yAxis: [
        valAxis(0, -0.544, 0.373, yTicksA, { line: true, label: { formatter: minus } }),
        valAxis(1, -0.667, 0.386, yTicksB, { line: true, label: { formatter: minus } }),
        valAxis(2, -3.145, 1.566, yTicksC, { label: rotLabel }),
        valAxis(3, -5.174, 3.08, yTicksD, { label: rotLabel }),
        valAxis(4, -4.685, 3.525, yTicksD, { label: rotLabel }),
        valAxis(5, -8.53, 7.4, yTicksF, {
          line: true,
          label: {
            fontSize: 21,
            margin: 7,
            formatter: (v: number) => (v === -2 ? "{up|-2}" : String(v)),
            rich: { up: { fontSize: 21, fontFamily: FONT, color: INK, padding: [0, 0, 20, 0] } },
          },
        }),
      ],
      series,
      graphic: { elements: graphics },
    });
    return () => chart.dispose();
  }, []);
  return <div ref={ref} style={{ width: 1944, height: 1218, position: "absolute", left: 0, top: 0 }} />;
}
